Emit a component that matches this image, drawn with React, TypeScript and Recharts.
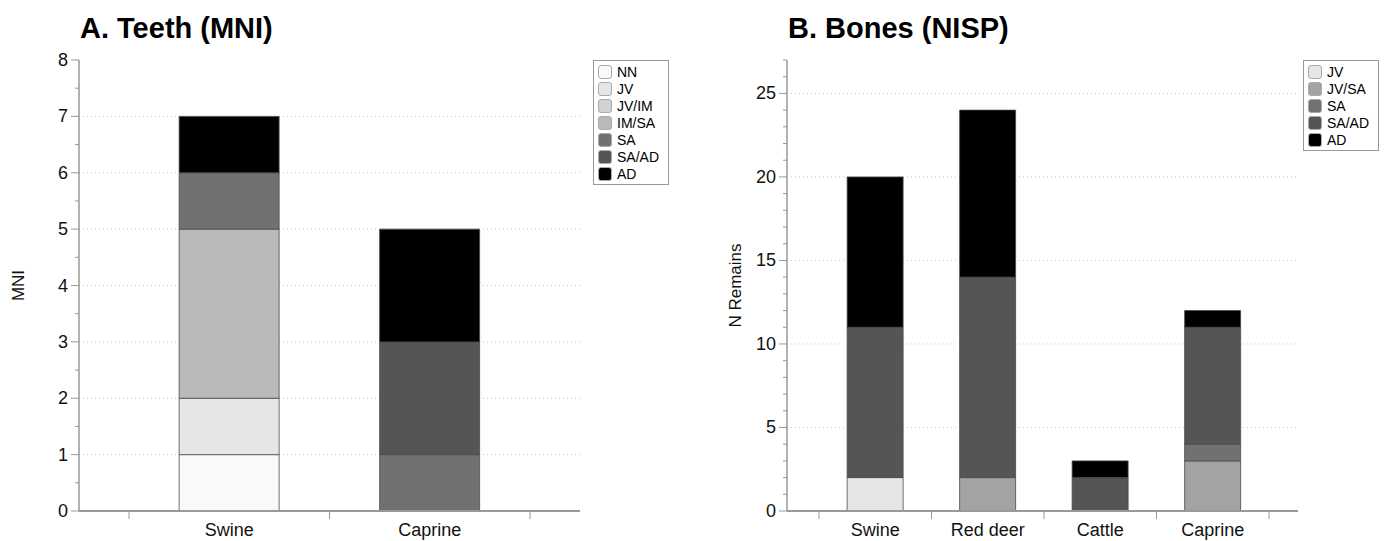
import { BarChart, Bar, XAxis, YAxis, CartesianGrid } from "recharts";

// ---- A. Teeth (MNI) ----
const teethSpecies = ["Swine", "Caprine"];
const teethStages = ["NN", "JV", "JV/IM", "IM/SA", "SA", "SA/AD", "AD"];
const teethNN = [1, 0];
const teethJV = [1, 0];
const teethJVIM = [0, 0];
const teethIMSA = [3, 0];
const teethSA = [1, 1];
const teethSAAD = [0, 2];
const teethAD = [1, 2];
const teethTicks = [0, 0.5, 1, 1.5, 2, 2.5, 3, 3.5, 4, 4.5, 5, 5.5, 6, 6.5, 7, 7.5, 8];
const teethMajor = [0, 1, 2, 3, 4, 5, 6, 7, 8];

// ---- B. Bones (NISP) ----
const boneSpecies = ["Swine", "Red deer", "Cattle", "Caprine"];
const boneStages = ["JV", "JV/SA", "SA", "SA/AD", "AD"];
const boneJV = [2, 0, 0, 0];
const boneJVSA = [0, 2, 0, 3];
const boneSA = [0, 0, 0, 1];
const boneSAAD = [9, 12, 2, 7];
const boneAD = [9, 10, 1, 1];
const boneTicks = [
  0, 1, 2, 3, 4, 5, 6, 7, 8, 9, 10, 11, 12, 13, 14, 15, 16, 17, 18, 19, 20, 21, 22, 23, 24, 25, 26, 27,
];
const boneMajor = [0, 5, 10, 15, 20, 25];

const stageColors: Record<string, string> = {
  NN: "#f9f9f9",
  JV: "#e6e6e6",
  "JV/IM": "#d2d2d2",
  "IM/SA": "#bababa",
  "JV/SA": "#a3a3a3",
  SA: "#717171",
  "SA/AD": "#555555",
  AD: "#000000",
};

const teethData = teethSpecies.map((s, i) => ({
  species: s,
  NN: teethNN[i],
  JV: teethJV[i],
  "JV/IM": teethJVIM[i],
  "IM/SA": teethIMSA[i],
  SA: teethSA[i],
  "SA/AD": teethSAAD[i],
  AD: teethAD[i],
}));

const boneData = boneSpecies.map((s, i) => ({
  species: s,
  JV: boneJV[i],
  "JV/SA": boneJVSA[i],
  SA: boneSA[i],
  "SA/AD": boneSAAD[i],
  AD: boneAD[i],
}));

const FONT = "'Liberation Sans', Arial, Helvetica, sans-serif";
const AXIS = "#999";
const H = 541;
const TOP = 60;
const XAXIS_H = 30;

type PanelProps = {
  left: number;
  width: number;
  yWidth: number;
  padL: number;
  padR: number;
  title: string;
  yLabel: string;
  yLabelX: number;
  data: any[];
  stages: string[];
  ticks: number[];
  majors: number[];
  yMax: number;
  legendLeft: number;
};

function Panel(p: PanelProps) {
  const plotBottom = H - XAXIS_H;
  const plotRight = p.width - 5;
  const band = (plotRight - p.yWidth - p.padL - p.padR) / p.data.length;

  const YTick = (props: any) => {
    const { y, payload } = props;
    const major = p.majors.includes(payload.value);
    return (
      <g>
        <line
          x1={p.yWidth - (major ? 8 : 4)}
          x2={p.yWidth}
          y1={y}
          y2={y}
          stroke={AXIS}
          strokeWidth={1}
        />
        {major && (
          <text
            x={p.yWidth - 11}
            y={y}
            textAnchor="end"
            dominantBaseline="central"
            fontSize={18}
            fontFamily={FONT}
            fill="#111"
          >
            {payload.value}
          </text>
        )}
      </g>
    );
  };

  const XTick = (props: any) => {
    const { x, payload, index } = props;
    const last = index === p.data.length - 1;
    return (
      <g>
        <line x1={x - band / 2} x2={x - band / 2} y1={plotBottom} y2={plotBottom + 8} stroke={AXIS} />
        {last && (
          <line x1={x + band / 2} x2={x + band / 2} y1={plotBottom} y2={plotBottom + 8} stroke={AXIS} />
        )}
        <text x={x} y={plotBottom + 25} textAnchor="middle" fontSize={18} fontFamily={FONT} fill="#111">
          {payload.value}
        </text>
      </g>
    );
  };

  return (
    <div style={{ position: "absolute", left: p.left, top: 0, width: p.width + 90, height: H }}>
      <div
        style={{
          position: "absolute",
          left: p.yWidth + 1,
          top: 14,
          fontFamily: FONT,
          fontWeight: "bold",
          fontSize: 29,
          lineHeight: "29px",
          whiteSpace: "nowrap",
        }}
      >
        {p.title}
      </div>
      <BarChart
        width={p.width}
        height={H}
        data={p.data}
        margin={{ top: TOP, right: 5, bottom: 0, left: 0 }}
        barCategoryGap="25%"
      >
        <CartesianGrid
          vertical={false}
          horizontalValues={p.majors.filter((v) => v > 0 && v < p.yMax)}
          stroke="#c4c4c4"
          strokeDasharray="1 3"
        />
        <XAxis
          dataKey="species"
          height={XAXIS_H}
          padding={{ left: p.padL, right: p.padR }}
          axisLine={{ stroke: AXIS, strokeWidth: 2 }}
          tickLine={false}
          tick={<XTick />}
          interval={0}
        />
        <XAxis
          xAxisId="top"
          orientation="top"
          dataKey="species"
          height={0}
          tick={false}
          tickLine={false}
          axisLine={{ stroke: AXIS, strokeWidth: 1 }}
        />
        <YAxis
          width={p.yWidth}
          domain={[0, p.yMax]}
          ticks={p.ticks}
          interval={0}
          allowDataOverflow
          axisLine={{ stroke: AXIS, strokeWidth: 1.5 }}
          tickLine={false}
          tick={<YTick />}
          label={{
            content: () => (
              <text
                x={p.yLabelX}
                y={TOP + (plotBottom - TOP) / 2}
                transform={`rotate(-90 ${p.yLabelX} ${TOP + (plotBottom - TOP) / 2})`}
                textAnchor="middle"
                dominantBaseline="central"
                fontSize={17}
                fontFamily={FONT}
                fill="#111"
              >
                {p.yLabel}
              </text>
            ),
          }}
        />
        <YAxis
          yAxisId="right"
          orientation="right"
          width={0}
          tick={false}
          tickLine={false}
          axisLine={{ stroke: AXIS, strokeWidth: 1 }}
        />
        {p.stages.map((s) => (
          <Bar
            key={s}
            dataKey={s}
            stackId="a"
            fill={stageColors[s]}
            stroke="#4a4a4a"
            strokeWidth={0.8}
            isAnimationActive={false}
          />
        ))}
      </BarChart>
      <div
        style={{
          position: "absolute",
          left: p.legendLeft,
          top: TOP,
          width: 70,
          border: "1px solid #999",
          background: "#fff",
          padding: "2px 0 2px 4px",
          fontFamily: FONT,
          fontSize: 14,
        }}
      >
        {p.stages.map((s) => (
          <div key={s} style={{ display: "flex", alignItems: "center", height: 17 }}>
            <div
              style={{
                width: 14,
                height: 14,
                background: stageColors[s],
                border: "1px solid #aaa",
                borderRadius: 3,
                marginRight: 5,
                boxSizing: "border-box",
              }}
            />
            <span>{s}</span>
          </div>
        ))}
      </div>
    </div>
  );
}

export default function App() {
  return (
    <div style={{ position: "absolute", left: 0, top: 0, width: 1385, height: H, background: "#fff" }}>
      <Panel
        left={0}
        width={585}
        yWidth={79}
        padL={50}
        padR={50}
        title="A. Teeth (MNI)"
        yLabel="MNI"
        yLabelX={18}
        data={teethData}
        stages={teethStages}
        ticks={teethTicks}
        majors={teethMajor}
        yMax={8}
        legendLeft={593}
      />
      <Panel
        left={700}
        width={603}
        yWidth={87}
        padL={32}
        padR={29}
        title="B. Bones (NISP)"
        yLabel="N Remains"
        yLabelX={35}
        data={boneData}
        stages={boneStages}
        ticks={boneTicks}
        majors={boneMajor}
        yMax={27}
        legendLeft={603}
      />
    </div>
  );
}
